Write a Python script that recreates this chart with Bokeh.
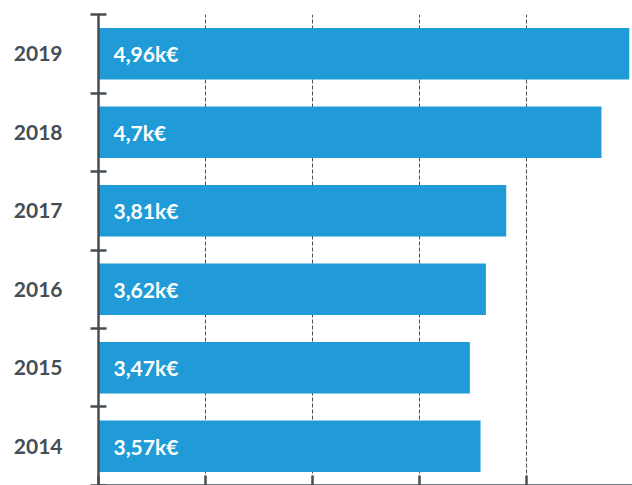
from bokeh.plotting import figure
from bokeh.models import Range1d, FixedTicker, ColumnDataSource
from bokeh.embed import file_html
from bokeh.resources import INLINE
from bokeh.core.properties import value

years = ["2014", "2015", "2016", "2017", "2018", "2019"]
values = [3.57, 3.47, 3.62, 3.81, 4.70, 4.96]
labels = ["3,57k€", "3,47k€", "3,62k€", "3,81k€", "4,7k€", "4,96k€"]
x_ticks = [0, 1, 2, 3, 4, 5]

AXIS = "#464e54"
BAR = "#209bd7"
FONT = "Lato"

pos = [i + 0.5 for i in range(len(years))]
src = ColumnDataSource(dict(y=pos, v=values, lab=labels, x0=[0] * len(years)))

p = figure(width=632, height=485, output_backend="svg", toolbar_location=None,
           x_range=Range1d(0, 4.99), y_range=Range1d(-0.001, len(years) + 0.001),
           min_border_left=98, min_border_right=0, min_border_top=14, min_border_bottom=0)
p.outline_line_color = None
p.background_fill_color = "white"
p.border_fill_color = "white"

p.hbar(y="y", right="v", left=0, height=0.655, source=src, color=BAR, line_color=None)
p.text(x="x0", y="y", text="lab", source=src, x_offset=15, text_align="left",
       text_baseline="middle", text_color="white", text_font=value(FONT),
       text_font_style="bold", text_font_size="21px")

# left axis
ya = p.yaxis[0]
ya.ticker = FixedTicker(ticks=pos, minor_ticks=list(range(len(years) + 1)))
ya.major_label_overrides = {pv: y for pv, y in zip(pos, years)}
ya.major_tick_in = 0
ya.major_tick_out = 0
ya.minor_tick_in = 8
ya.minor_tick_out = 8
ya.minor_tick_line_color = AXIS
ya.minor_tick_line_width = 2.5
ya.axis_line_color = AXIS
ya.axis_line_width = 2.5
ya.major_label_standoff = 28
ya.major_label_text_font = FONT
ya.major_label_text_font_style = "bold"
ya.major_label_text_font_size = "21px"
ya.major_label_text_color = AXIS

# bottom axis
xa = p.xaxis[0]
xa.ticker = FixedTicker(ticks=x_ticks)
xa.major_label_overrides = {t: "" for t in x_ticks}
xa.major_label_standoff = 0
xa.major_tick_in = 10
xa.major_tick_out = 0
xa.major_tick_line_color = AXIS
xa.major_tick_line_width = 2.5
xa.minor_tick_line_color = None
xa.axis_line_color = AXIS
xa.axis_line_width = 2.5

p.ygrid.grid_line_color = None
p.xgrid.ticker = FixedTicker(ticks=x_ticks)
p.xgrid.grid_line_color = AXIS
p.xgrid.grid_line_width = 1
p.xgrid.grid_line_dash = "4 2"

open("out.html", "w").write(file_html(p, INLINE))
